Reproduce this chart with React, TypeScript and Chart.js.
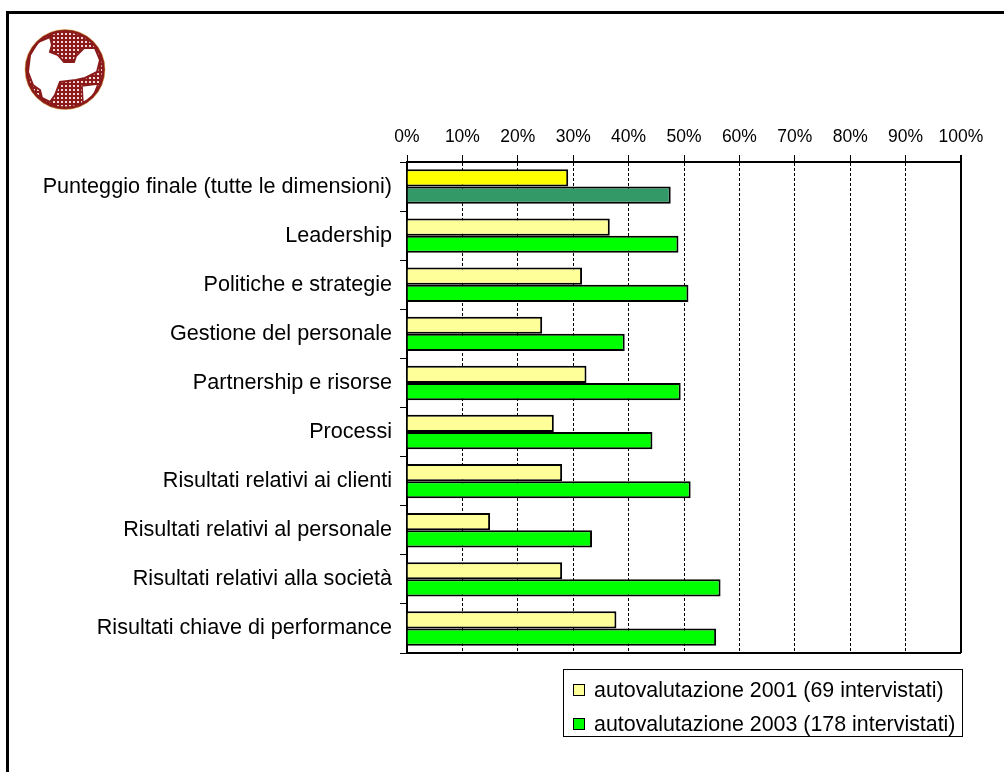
import React, { useEffect, useRef } from "react";
import { Chart, registerables } from "chart.js";

Chart.register(...registerables);

const categories = [
  "Punteggio finale (tutte le dimensioni)",
  "Leadership",
  "Politiche e strategie",
  "Gestione del personale",
  "Partnership e risorse",
  "Processi",
  "Risultati relativi ai clienti",
  "Risultati relativi al personale",
  "Risultati relativi alla società",
  "Risultati chiave di performance",
];

const series2001 = [29.1, 36.6, 31.6, 24.4, 32.4, 26.5, 28.0, 15.0, 28.0, 37.8];
const series2003 = [47.6, 49.0, 50.8, 39.3, 49.4, 44.3, 51.2, 33.4, 56.6, 55.8];

const seriesLabels = [
  "autovalutazione 2001 (69 intervistati)",
  "autovalutazione 2003 (178 intervistati)",
];

const xTicks = [0, 10, 20, 30, 40, 50, 60, 70, 80, 90, 100];

const FONT = "'Liberation Sans', Arial, sans-serif";
const color2001 = "#FFFF99";
const color2001First = "#FFFF00";
const color2003 = "#00FF00";
const color2003First = "#339966";

const framePlugin = {
  id: "plotFrame",
  afterDatasetsDraw(chart: any) {
    const { ctx, chartArea } = chart;
    const x = chart.scales.x;
    const right = x.getPixelForValue(100);
    ctx.save();
    ctx.strokeStyle = "#000";
    ctx.lineWidth = 2;
    ctx.setLineDash([]);
    ctx.beginPath();
    ctx.moveTo(right, chartArea.top - 7);
    ctx.lineTo(right, chartArea.bottom);
    ctx.stroke();
    ctx.beginPath();
    ctx.moveTo(chartArea.left, chartArea.bottom);
    ctx.lineTo(right, chartArea.bottom);
    ctx.stroke();
    ctx.restore();
  },
};

function Logo() {
  return (
    <svg
      width={90}
      height={90}
      viewBox="20 25 90 90"
      style={{ position: "absolute", left: 20, top: 25 }}
    >
      <defs>
        <pattern id="chk" width="4" height="4" patternUnits="userSpaceOnUse">
          <rect width="4" height="4" fill="#8b1a1a" />
          <rect x="1" y="1" width="2" height="2" fill="#f4d6d6" />
        </pattern>
      </defs>
      <circle cx={65} cy={69.5} r={38.5} fill="url(#chk)" />
      <path
        d="M30,55 L38,42 L50,37 L52,45 L50,52 L58,55 L64,62 L74,62 L76,56 L84,48 L95,48 L100,60 L97,72 L85,78 L76,80 L60,82 L55,95 L50,102 L42,98 L40,90 L33,85 L28,72 Z"
        fill="#fff"
        stroke="#8b1a1a"
        strokeWidth={2}
      />
      <path d="M82,86 L98,84 L93,97 L83,103 Z" fill="#fff" stroke="#8b1a1a" strokeWidth={1.5} />
      <circle cx={65} cy={69.5} r={38.5} fill="none" stroke="#8b1a1a" strokeWidth={3} />
      <circle cx={65} cy={69.5} r={40} fill="none" stroke="#d9a22a" strokeWidth={0.8} opacity={0.6} />
    </svg>
  );
}

export default function App() {
  const canvasRef = useRef<HTMLCanvasElement | null>(null);

  useEffect(() => {
    const canvas = canvasRef.current;
    if (!canvas) return;
    const bg2001 = series2001.map((_, i) => (i === 0 ? color2001First : color2001));
    const bg2003 = series2003.map((_, i) => (i === 0 ? color2003First : color2003));
    const chart = new Chart(canvas, {
      type: "bar",
      data: {
        labels: categories,
        datasets: [
          {
            label: seriesLabels[0],
            data: series2001,
            backgroundColor: bg2001,
            borderColor: "#000",
            borderWidth: 2,
            barPercentage: 1,
            categoryPercentage: 0.7,
          },
          {
            label: seriesLabels[1],
            data: series2003,
            backgroundColor: bg2003,
            borderColor: "#000",
            borderWidth: 2,
            barPercentage: 1,
            categoryPercentage: 0.7,
          },
        ],
      },
      options: {
        indexAxis: "y",
        responsive: false,
        animation: false,
        devicePixelRatio: 1,
        layout: { padding: { top: 100, right: 43, bottom: 119, left: 0 } },
        plugins: {
          legend: { display: false },
          tooltip: { enabled: false },
        },
        scales: {
          x: {
            position: "top",
            min: 0,
            max: 100,
            afterBuildTicks: (scale: any) => {
              scale.ticks = xTicks.map((v) => ({ value: v }));
            },
            afterFit: (scale: any) => {
              scale.height = 62;
            },
            ticks: {
              callback: (v: any) => v + "%",
              color: "#000",
              font: { family: FONT, size: 17.5 },
              padding: 7,
              maxRotation: 0,
              autoSkip: false,
            },
            grid: {
              color: "#000",
              lineWidth: 1,
              tickLength: 7,
            },
            border: { display: true, color: "#000", width: 2, dash: [3, 2] },
          },
          y: {
            afterFit: (scale: any) => {
              scale.width = 407;
            },
            ticks: {
              color: "#000",
              font: { family: FONT, size: 21.6 },
              padding: 8,
              autoSkip: false,
            },
            grid: {
              drawOnChartArea: false,
              drawTicks: true,
              tickLength: 7,
              color: "#000",
              lineWidth: 1,
              offset: true,
            },
            border: { display: true, color: "#000", width: 2 },
          },
        },
      },
      plugins: [framePlugin],
    } as any);
    return () => chart.destroy();
  }, []);

  const legendColors = [color2001, color2003];

  return (
    <div
      style={{
        position: "absolute",
        left: 0,
        top: 0,
        width: 1004,
        height: 772,
        background: "#fff",
        overflow: "hidden",
      }}
    >
      <div
        style={{
          position: "absolute",
          left: 6,
          top: 11,
          width: 1010,
          height: 780,
          borderTop: "3px solid #000",
          borderLeft: "3px solid #000",
        }}
      />
      <Logo />
      <canvas
        ref={canvasRef}
        width={1004}
        height={772}
        style={{ position: "absolute", left: 0, top: 0, width: 1004, height: 772 }}
      />
      <div
        style={{
          position: "absolute",
          left: 563,
          top: 669,
          width: 398,
          height: 66,
          border: "1.5px solid #000",
          fontFamily: FONT,
          fontSize: 21.4,
          color: "#000",
        }}
      >
        {seriesLabels.map((lab, i) => (
          <div
            key={lab}
            style={{
              position: "absolute",
              left: 9,
              top: 5 + i * 34,
              height: 30,
              display: "flex",
              alignItems: "center",
              whiteSpace: "nowrap",
            }}
          >
            <span
              style={{
                display: "inline-block",
                width: 10,
                height: 10,
                border: "1.5px solid #000",
                background: legendColors[i],
                marginRight: 9,
              }}
            />
            <span>{lab}</span>
          </div>
        ))}
      </div>
    </div>
  );
}
